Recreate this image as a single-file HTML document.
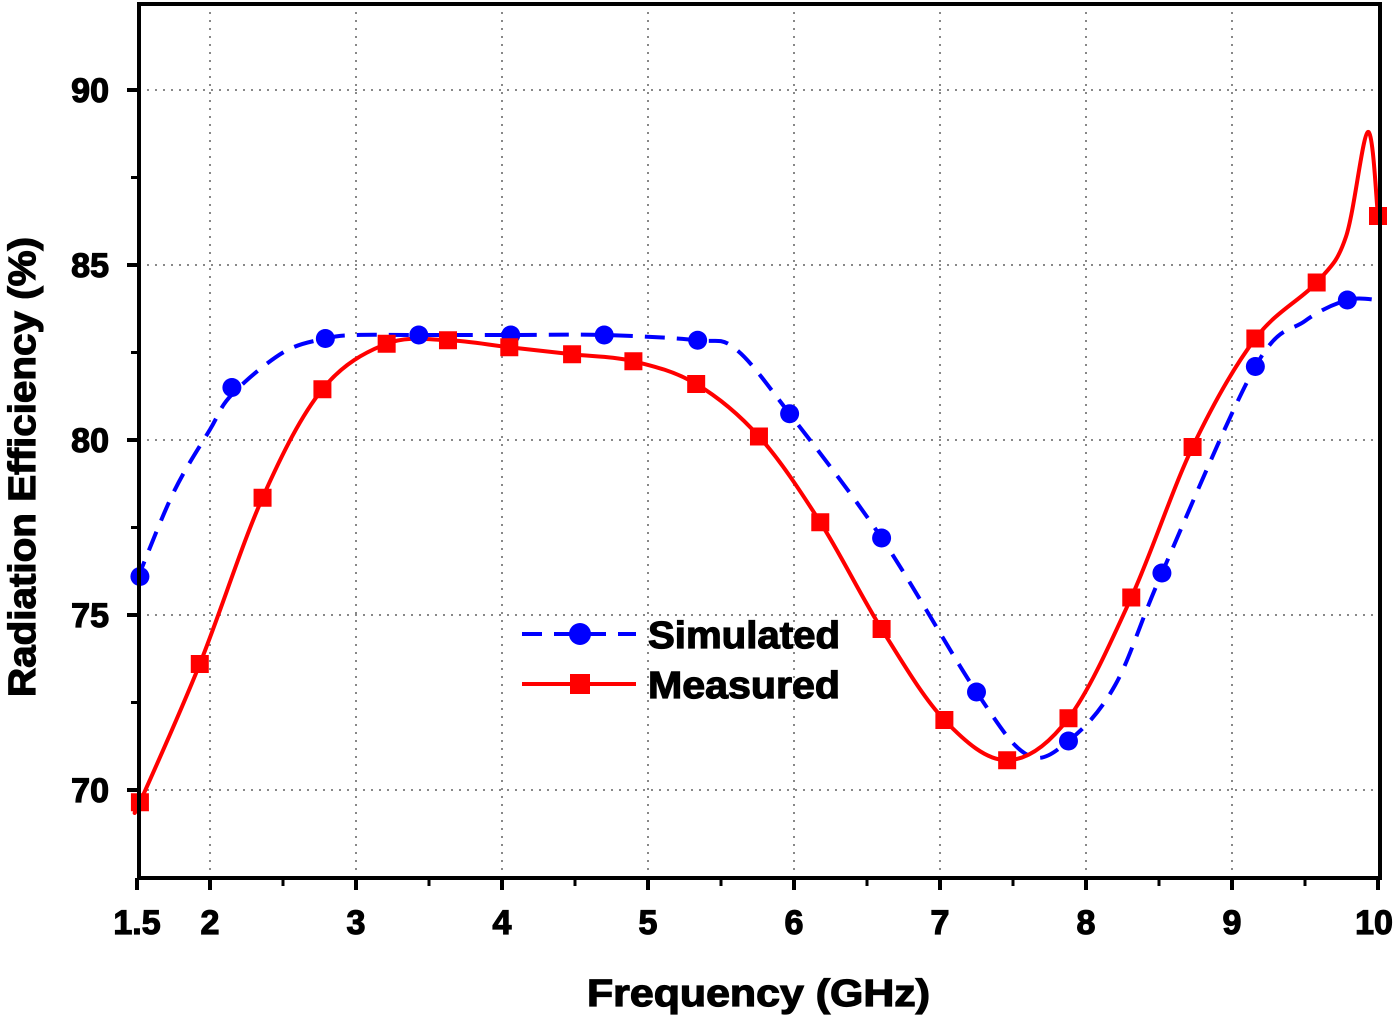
<!DOCTYPE html>
<html><head><meta charset="utf-8"><style>
html,body{margin:0;padding:0;background:#fff}
svg{display:block}
text{font-family:"Liberation Sans",Arial,sans-serif;font-weight:bold;fill:#000;stroke:#000;stroke-width:1.2}
</style></head><body>
<svg id="chart" width="1400" height="1015" viewBox="0 0 1400 1015">
<g id="grid"></g>
<g id="series"></g>
<g id="axes"></g>
<g id="legend">
  <line x1="522" y1="634" x2="636" y2="634" stroke="#0000ff" stroke-width="4" stroke-dasharray="20,12"/>
  <circle cx="580" cy="634" r="11" fill="#0000ff"/>
  <text x="648" y="648" font-size="38" textLength="192" lengthAdjust="spacingAndGlyphs">Simulated</text>
  <line x1="522" y1="684" x2="636" y2="684" stroke="#ff0000" stroke-width="4"/>
  <rect x="570" y="674" width="20" height="20" fill="#ff0000"/>
  <text x="648" y="698" font-size="38" textLength="192" lengthAdjust="spacingAndGlyphs">Measured</text>
</g>
<text x="587" y="1006" font-size="38" textLength="343" lengthAdjust="spacingAndGlyphs">Frequency (GHz)</text>
<text transform="translate(35,697) rotate(-90)" font-size="38" textLength="460" lengthAdjust="spacingAndGlyphs">Radiation Efficiency (%)</text>
</svg>
<script>
const xTicks=[1.5,2,3,4,5,6,7,8,9,10];
const xTickLabels=["1.5","2","3","4","5","6","7","8","9","10"];
const yTicks=[70,75,80,85,90];
const yTickLabels=["70","75","80","85","90"];
const simMarkerX=[1.52,2.15,2.79,3.43,4.06,4.70,5.34,5.97,6.60,7.25,7.88,8.52,9.16,9.79];
const simMarkerY=[76.1,81.5,82.9,83.0,83.0,83.0,82.85,80.75,77.2,72.8,71.4,76.2,82.1,84.0];
const simCurveX=[1.5,1.75,2.0,2.15,2.5,2.79,3.0,3.43,4.06,4.70,5.34,5.6,5.97,6.60,7.25,7.6,7.88,8.2,8.52,9.16,9.5,9.79,10];
const simCurveY=[76.0,78.5,80.3,81.3,82.5,82.9,83.0,83.0,83.0,83.0,82.85,82.6,80.75,77.2,72.8,71.0,71.4,73.0,76.2,82.1,83.4,84.0,84.0];
const meaMarkerX=[1.52,1.93,2.36,2.77,3.21,3.63,4.05,4.48,4.90,5.33,5.76,6.18,6.60,7.03,7.46,7.88,8.31,8.73,9.16,9.58,10];
const meaMarkerY=[69.65,73.6,78.35,81.45,82.75,82.85,82.65,82.45,82.25,81.6,80.1,77.65,74.6,72.0,70.85,72.05,75.5,79.8,82.9,84.5,86.4];
const meaCurveX=[1.5,1.52,1.93,2.36,2.77,3.21,3.63,4.05,4.48,4.90,5.33,5.76,6.18,6.60,7.03,7.46,7.88,8.31,8.73,9.16,9.58,9.78,9.93,10];
const meaCurveY=[69.6,69.65,73.6,78.35,81.45,82.75,82.85,82.65,82.45,82.25,81.6,80.1,77.65,74.6,72.0,70.85,72.05,75.5,79.8,82.9,84.5,85.8,88.8,86.4];

const X0=137,XS=146,Y0=790,YS=35;
const xs=v=>X0+(v-1.5)*XS;
const ys=v=>Y0-(v-70)*YS;
const NS="http://www.w3.org/2000/svg";
function mk(tag,attrs,parent){const e=document.createElementNS(NS,tag);for(const k in attrs)e.setAttribute(k,attrs[k]);parent.appendChild(e);return e;}
const grid=document.getElementById('grid'),axes=document.getElementById('axes'),series=document.getElementById('series');
const L=139,R=1380,T=4,B=878;
xTicks.forEach(v=>{if(v>1.5&&v<10){const g=mk('line',{x1:xs(v),x2:xs(v),y1:T,y2:B,stroke:'#888','stroke-width':2,'stroke-dasharray':'2,6'},grid);

}});
yTicks.forEach(v=>{const g=mk('line',{x1:L,x2:R,y1:ys(v),y2:ys(v),stroke:'#888','stroke-width':2,'stroke-dasharray':'2,6'},grid);

});
function path(px,py){const p=px.map((x,i)=>[xs(x),ys(py[i])]);let d=`M${p[0][0]},${p[0][1]}`;
for(let i=0;i<p.length-1;i++){const p0=p[Math.max(i-1,0)],p1=p[i],p2=p[i+1],p3=p[Math.min(i+2,p.length-1)];
const c1=[p1[0]+(p2[0]-p0[0])/6,p1[1]+(p2[1]-p0[1])/6],c2=[p2[0]-(p3[0]-p1[0])/6,p2[1]-(p3[1]-p1[1])/6];
d+=` C${c1[0]},${c1[1]} ${c2[0]},${c2[1]} ${p2[0]},${p2[1]}`;}return d;}
const sl=mk('path',{d:path(simCurveX,simCurveY),fill:'none',stroke:'#0000ff','stroke-width':4,'stroke-dasharray':'20,12'},series);


const ml=mk('path',{d:path(meaCurveX,meaCurveY),fill:'none',stroke:'#ff0000','stroke-width':4},series);


simMarkerX.forEach((x,i)=>{const c=mk('circle',{cx:xs(x),cy:ys(simMarkerY[i]),r:9.5,fill:'#0000ff'},series);

});
meaMarkerX.forEach((x,i)=>{const r=mk('rect',{x:xs(x)-9,y:ys(meaMarkerY[i])-9,width:18,height:18,fill:'#ff0000'},series);

});
const fr=mk('rect',{x:L,y:T,width:R-L,height:B-T,fill:'none',stroke:'#000','stroke-width':4},axes);


xTicks.forEach((v,i)=>{const t=mk('line',{x1:xs(v),x2:xs(v),y1:B,y2:B+12,stroke:'#000','stroke-width':4},axes);


const lb=mk('text',{x:xs(v)+(v===10?-4:0),y:B+56,'font-size':34,'text-anchor':'middle'},axes);lb.textContent=xTickLabels[i];

});
[2.5,3.5,4.5,5.5,6.5,7.5,8.5,9.5].forEach(v=>{const t=mk('line',{x1:xs(v),x2:xs(v),y1:B,y2:B+8,stroke:'#000','stroke-width':3},axes);

});
yTicks.forEach((v,i)=>{const t=mk('line',{x1:L-12,x2:L,y1:ys(v),y2:ys(v),stroke:'#000','stroke-width':4},axes);


const lb=mk('text',{x:L-30,y:ys(v)+12,'font-size':34,'text-anchor':'end'},axes);lb.textContent=yTickLabels[i];

});
[72.5,77.5,82.5,87.5].forEach(v=>{const t=mk('line',{x1:L-8,x2:L,y1:ys(v),y2:ys(v),stroke:'#000','stroke-width':3},axes);

});
</script>
</body></html>
